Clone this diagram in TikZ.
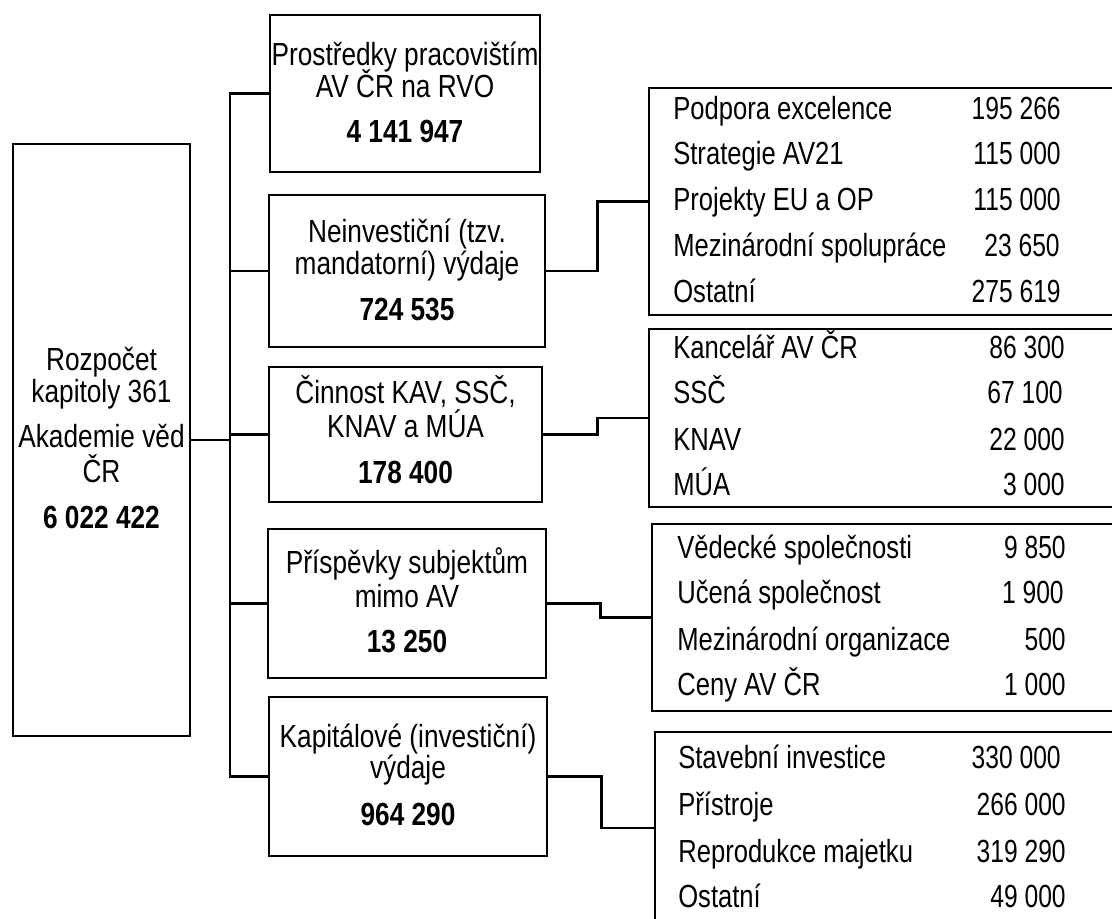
\documentclass[tikz,border=0pt]{standalone}
\usepackage{fontspec}
\setmainfont{Liberation Sans}[FakeStretch=0.82]
\newfontfamily\rlblfont{Liberation Sans}[FakeStretch=0.80]
\newfontfamily\rnumfont{Liberation Sans}[FakeStretch=0.77]
\begin{document}
\begin{tikzpicture}[x=1pt,y=-1pt,line width=2.6pt,
  box/.style={draw,line width=2.6pt,inner sep=0pt,minimum width=#1},
  txt/.style={font=\fontsize{32}{34}\selectfont,inner sep=0pt,anchor=base},
  bnum/.style={txt,font=\fontsize{32}{34}\selectfont\bfseries},
  lbl/.style={txt,anchor=base west,font=\rlblfont\fontsize{32}{34}\selectfont},
  num/.style={txt,anchor=base east,font=\rnumfont\fontsize{32}{34}\selectfont}]
\useasboundingbox (0,0) rectangle (1112,919);
\clip (0,0) rectangle (1112,919);
% boxes
\node[box=177pt,minimum height=592pt] (L) at (101.5,440) {};
\node[box=270pt,minimum height=157pt] (b1) at (405,93.5) {};
\node[box=276pt,minimum height=152pt] (b2) at (407,271) {};
\node[box=273pt,minimum height=135pt] (b3) at (405.5,434.5) {};
\node[box=278pt,minimum height=149pt] (b4) at (407,603.5) {};
\node[box=278pt,minimum height=159pt] (b5) at (408,776.5) {};
\node[box=481pt,minimum height=227pt] (A) at (889.5,201.5) {};
\node[box=481pt,minimum height=178pt] (B) at (889.5,418) {};
\node[box=478pt,minimum height=187pt] (C) at (891,617.5) {};
\node[box=475pt,minimum height=192pt] (D) at (892.5,828) {};
% connectors
\coordinate (sp) at (230,440);
\draw (L.east) -- (sp);
\draw (b1.west) -| (sp) |- (b5.west);
\draw (sp |- b2.west) -- (b2.west);
\draw (sp |- b3.west) -- (b3.west);
\draw (sp |- b4.west) -- (b4.west);
\draw (b2.east) -- ++(51,0) |- (A.west);
\draw (b3.east) -- ++(54,0) |- (B.west);
\draw (b4.east) -- ++(53,0) |- (C.west);
\draw (b5.east) -- ++(53,0) |- (D.west);
% left box text
\node[txt] (l1) at (101.5,370) {Rozpočet};
\node[txt] (l2) at (101.5,402) {kapitoly 361};
\node[txt] (l3) at (101.5,447) {Akademie věd};
\node[txt] (l4) at (101.5,482) {ČR};
\node[bnum] (l5) at (101.5,528) {6 022 422};
% middle boxes text
\node[txt] (p1) at (405,65) {Prostředky pracovištím};
\node[txt] (p2) at (405,97) {AV ČR na RVO};
\node[bnum] (p3) at (405,142) {4 141 947};
\node[txt] (n1) at (407,242) {Neinvestiční (tzv.};
\node[txt] (n2) at (407,274) {mandatorní) výdaje};
\node[bnum] (n3) at (407,320) {724 535};
\node[txt] (c1) at (405.5,403) {Činnost KAV, SSČ,};
\node[txt] (c2) at (405.5,437) {KNAV a MÚA};
\node[bnum] (c3) at (405.5,483) {178 400};
\node[txt] (s1) at (407,573) {Příspěvky subjektům};
\node[txt] (s2) at (407,607) {mimo AV};
\node[bnum] (s3) at (407,652) {13 250};
\node[txt] (k1) at (408,747) {Kapitálové (investiční)};
\node[txt] (k2) at (408,778) {výdaje};
\node[bnum] (k3) at (408,825) {964 290};
% box A
\node[lbl] (a1) at (672,119) {Podpora excelence};
\node[num] (a1n) at (1062,119) {195 266};
\node[lbl] (a2) at (672,164) {Strategie AV21};
\node[num] (a2n) at (1062,164) {115 000};
\node[lbl] (a3) at (672,210) {Projekty EU a OP};
\node[num] (a3n) at (1062,210) {115 000};
\node[lbl] (a4) at (672,256) {Mezinárodní spolupráce};
\node[num] (a4n) at (1061,256) {23 650};
\node[lbl] (a5) at (672,302) {Ostatní};
\node[num] (a5n) at (1062,302) {275 619};
% box B
\node[lbl] (bb1) at (672,358) {Kancelář AV ČR};
\node[num] (bb1n) at (1066,358) {86 300};
\node[lbl] (bb2) at (672,403) {SSČ};
\node[num] (bb2n) at (1064,403) {67 100};
\node[lbl] (bb3) at (672,450) {KNAV};
\node[num] (bb3n) at (1066,450) {22 000};
\node[lbl] (bb4) at (672,495) {MÚA};
\node[num] (bb4n) at (1066,495) {3 000};
% box C
\node[lbl] (cc1) at (676,558) {Vědecké společnosti};
\node[num] (cc1n) at (1067,558) {9 850};
\node[lbl] (cc2) at (676,603) {Učená společnost};
\node[num] (cc2n) at (1065,603) {1 900};
\node[lbl] (cc3) at (676,650) {Mezinárodní organizace};
\node[num] (cc3n) at (1067,650) {500};
\node[lbl] (cc4) at (676,695) {Ceny AV ČR};
\node[num] (cc4n) at (1067,695) {1 000};
% box D
\node[lbl] (dd1) at (677,768) {Stavební investice};
\node[num] (dd1n) at (1062,768) {330 000};
\node[lbl] (dd2) at (677,815) {Přístroje};
\node[num] (dd2n) at (1067,815) {266 000};
\node[lbl] (dd3) at (677,862) {Reprodukce majetku};
\node[num] (dd3n) at (1067,862) {319 290};
\node[lbl] (dd4) at (677,907) {Ostatní};
\node[num] (dd4n) at (1067,907) {49 000};
\end{tikzpicture}
\end{document}
